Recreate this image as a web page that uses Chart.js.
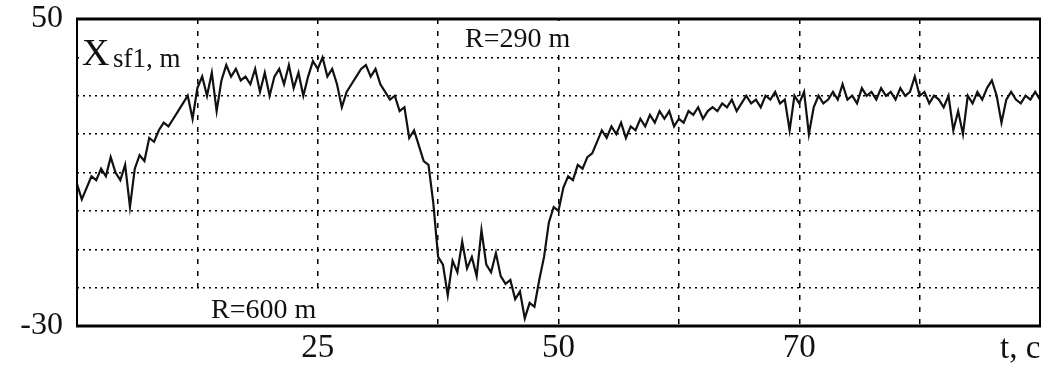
<!DOCTYPE html>
<html>
<head>
<meta charset="utf-8">
<script src="https://cdn.jsdelivr.net/npm/chart.js@4.4.1/dist/chart.umd.min.js"></script>
<style>
  html, body { margin: 0; padding: 0; background: #fff; }
  #wrap { width: 1061px; height: 369px; position: relative; }
</style>
</head>
<body>
<div id="wrap"><canvas id="xsfChart"></canvas></div>
<script>
// time axis: samples every 0.4 units, grid every 10
const tStart = 0;
const tStep = 0.4;
const xMin = 0, xMax = 80, xGridStep = 10;
const yMin = -30, yMax = 50, yGridStep = 10;

// tick labels as printed on the original figure (at grid lines 2, 4, 6)
const xTickLabels = { 20: '25', 40: '50', 60: '70' };
const yTickLabels = { '-30': '-30', '50': '50' };
const xAxisUnit = 't, c';

// Xsf1 trace, metres
const xsfValues = [
  7, 3, 6, 9, 8, 11, 9, 14, 10, 8,
  12, 1, 11, 14.5, 13, 19, 18, 21, 23, 22,
  24, 26, 28, 30, 24, 32, 35, 30, 36, 26,
  34, 38, 35, 37, 34, 35, 33, 37, 31, 36,
  30, 35, 37, 33, 38, 32, 36, 30, 35, 39,
  37, 40, 35, 37, 33, 27, 31, 33, 35, 37,
  38, 35, 37, 33, 31, 29, 30, 26, 27, 19,
  21, 17, 13, 12, 2, -12, -14, -22, -13, -16,
  -8, -15, -12, -17, -5, -14, -16, -11, -17, -19,
  -18, -23, -21, -28, -24, -25, -18, -12, -3, 1,
  0, 6, 9, 8, 12, 11, 14, 15, 18, 21,
  19, 22, 20, 23, 19, 22, 21, 24, 22, 25,
  23, 26, 24, 26, 22, 24, 23, 26, 25, 27,
  24, 26, 27, 26, 28, 27, 29, 26, 28, 30,
  28, 29, 27, 30, 29, 31, 28, 29, 21, 30,
  28, 31, 20, 27, 30, 28, 29, 31, 29, 33,
  29, 30, 28, 32, 30, 31, 29, 32, 30, 31,
  29, 32, 30, 31, 35, 30, 31, 28, 30, 29,
  27, 30, 21, 26, 20, 30, 28, 31, 29, 32,
  34, 30, 23, 29, 31, 29, 28, 30, 29, 31,
  29
];

const points = xsfValues.map((v, i) => ({ x: tStart + i * tStep, y: v }));

const serif = '"Liberation Serif", "Times New Roman", serif';

const annotations = {
  id: 'annotations',
  afterDatasetsDraw(chart) {
    const ctx = chart.ctx;
    const a = chart.chartArea;
    ctx.save();
    // white label boxes
    ctx.fillStyle = '#fff';
    ctx.fillRect(a.left + 2, 28, 116, 44);
    ctx.fillRect(445, a.top + 2, 155, 29);
    ctx.fillRect(190, 291, 155, a.bottom - 292);

    ctx.fillStyle = '#111';
    ctx.textBaseline = 'alphabetic';
    ctx.textAlign = 'left';
    ctx.font = '38px ' + serif;
    ctx.fillText('X', 82, 65);
    ctx.font = '27px ' + serif;
    ctx.fillText('sf1, m', 113, 67);

    ctx.font = '28px ' + serif;
    ctx.fillText('R=290 m', 465, 47);
    ctx.fillText('R=600 m', 211, 318);

    ctx.font = '33px ' + serif;
    ctx.textBaseline = 'middle';
    ctx.fillText(xAxisUnit, 1000, 349);

    // frame
    ctx.strokeStyle = '#000';
    ctx.lineWidth = 3;
    ctx.beginPath();
    ctx.moveTo(a.left - 1, a.top); ctx.lineTo(a.right + 1, a.top);
    ctx.moveTo(a.left - 1, a.bottom); ctx.lineTo(a.right + 1, a.bottom);
    ctx.stroke();
    ctx.lineWidth = 2;
    ctx.beginPath();
    ctx.moveTo(a.left, a.top); ctx.lineTo(a.left, a.bottom);
    ctx.moveTo(a.right, a.top); ctx.lineTo(a.right, a.bottom);
    ctx.stroke();
    ctx.restore();
  }
};

const config = {
  type: 'line',
  data: {
    datasets: [{
      label: 'Xsf1',
      data: points,
      borderColor: '#111',
      borderWidth: 2.2,
      pointRadius: 0,
      tension: 0
    }]
  },
  options: {
    responsive: false,
    animation: false,
    layout: { padding: { top: 19, right: 21, left: 0, bottom: 0 } },
    plugins: { legend: { display: false }, tooltip: { enabled: false } },
    scales: {
      x: {
        type: 'linear',
        min: xMin, max: xMax,
        afterFit(scale) { scale.height = 43; },
        grid: { color: '#000', lineWidth: 1.5, drawTicks: false },
        border: { display: false, dash: [5, 7] },
        ticks: {
          stepSize: xGridStep,
          padding: 3,
          color: '#111',
          maxRotation: 0,
          autoSkip: false,
          font: { family: serif, size: 33 },
          callback: (v) => xTickLabels[v] || ''
        }
      },
      y: {
        min: yMin, max: yMax,
        afterFit(scale) {
          scale.width = 77;
          scale.paddingTop = 0;
          scale.paddingBottom = 0;
        },
        grid: { color: '#000', lineWidth: 1.5, drawTicks: false },
        border: { display: false, dash: [2, 4] },
        ticks: {
          stepSize: yGridStep,
          padding: 14,
          color: '#111',
          autoSkip: false,
          font: { family: serif, size: 32, lineHeight: 1.2 },
          callback: (v) => yTickLabels[String(v)] || ''
        }
      }
    }
  },
  plugins: [annotations]
};

const canvas = document.getElementById('xsfChart');
canvas.width = 1061;
canvas.height = 369;
const myChart = new Chart(canvas, config);
</script>
</body>
</html>
